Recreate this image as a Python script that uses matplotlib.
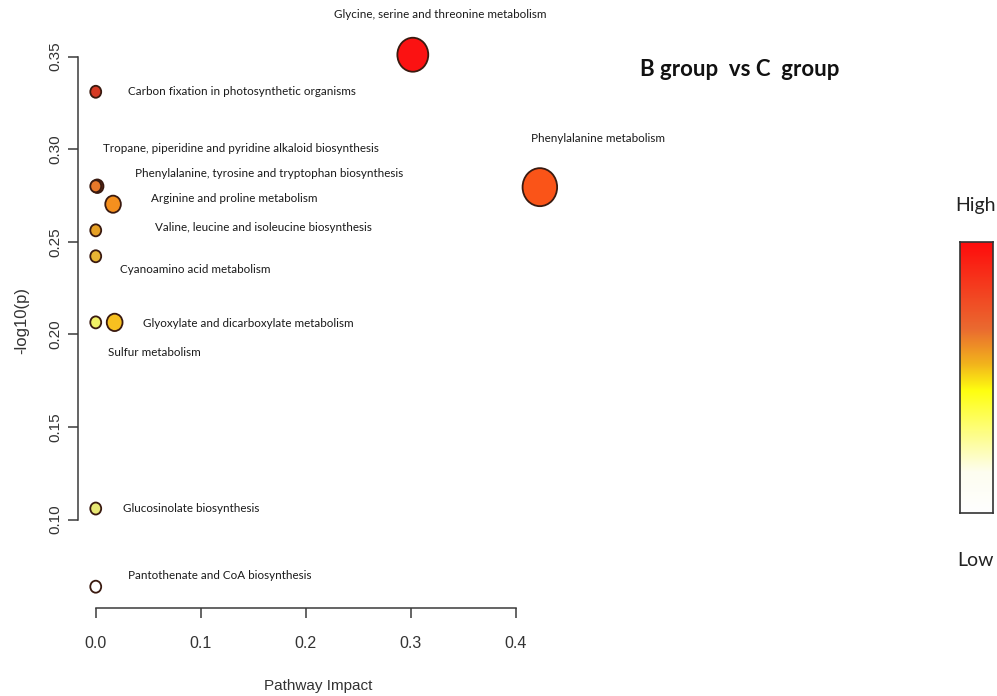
import numpy as np
import matplotlib
matplotlib.use("Agg")
import matplotlib.pyplot as plt
from matplotlib.colors import LinearSegmentedColormap
from matplotlib.path import Path
from matplotlib.markers import MarkerStyle

# Pathway analysis results
pathways = [
    "Glycine, serine and threonine metabolism",
    "Carbon fixation in photosynthetic organisms",
    "Tropane, piperidine and pyridine alkaloid biosynthesis",
    "Phenylalanine, tyrosine and tryptophan biosynthesis",
    "Phenylalanine metabolism",
    "Arginine and proline metabolism",
    "Valine, leucine and isoleucine biosynthesis",
    "Cyanoamino acid metabolism",
    "Glyoxylate and dicarboxylate metabolism",
    "Sulfur metabolism",
    "Glucosinolate biosynthesis",
    "Pantothenate and CoA biosynthesis",
]
impact = [0.302, 0.0, 0.0015, 0.0, 0.423, 0.0165, 0.0, 0.0, 0.018, 0.0, 0.0, 0.0]
neg_log_p = [0.351, 0.331, 0.280, 0.280, 0.2795, 0.2703, 0.2562, 0.2422,
             0.2065, 0.2065, 0.106, 0.0638]

x_ticks = [0.0, 0.1, 0.2, 0.3, 0.4]
y_ticks = [0.10, 0.15, 0.20, 0.25, 0.30, 0.35]

# styling
fill_colors = ["#fb1212", "#d63a24", "#6e2c10", "#e8782a", "#fa5418", "#f5901e",
               "#e6a024", "#e8b434", "#f7c020", "#f2f066", "#e8e874", "#ffffff"]
edge_color = "#3a1a10"
label_offsets = [(27, -40, "center"), (32, 0, "left"), (6, -38, "left"),
                 (39, -13, "left"), (-9, -49, "left"), (38, -6, "left"),
                 (59, -3, "left"), (24, 13, "left"), (28, 1, "left"),
                 (12, 30, "left"), (27, 0, "left"), (32, -11, "left")]

label_font = ["Lato", "DejaVu Sans"]
axis_font = ["Liberation Sans", "DejaVu Sans"]

fig = plt.figure(figsize=(9.97, 6.96), dpi=100)
ax = fig.add_axes([78 / 997, 1 - 608 / 696, (557.7 - 78) / 997, (608 - 32.5) / 696])

ax.set_xlim(-0.0169, 0.44)
ax.set_ylim(0.0523, 0.363)

# slightly tall elliptical marker
circ = Path.unit_circle()
ell = Path(circ.vertices * np.array([1.0, 1.1]), circ.codes)
marker = MarkerStyle(ell)

diam_px = [12 + 40 * np.sqrt(v) for v in impact]
sizes = [(d * 72 / 100) ** 2 for d in diam_px]

ax.scatter(impact, neg_log_p, s=sizes, c=fill_colors, edgecolors=edge_color,
           linewidths=1.3, marker=marker, zorder=3)

for name, xv, yv, (dx, dy, ha) in zip(pathways, impact, neg_log_p, label_offsets):
    ax.annotate(name, (xv, yv), xytext=(dx, -dy), textcoords="offset pixels",
                ha=ha, va="center", fontsize=8.4, family=label_font, color="#1a1a1a")

for side in ("top", "right"):
    ax.spines[side].set_visible(False)
ax.spines["left"].set_bounds(y_ticks[0], y_ticks[-1])
ax.spines["bottom"].set_bounds(x_ticks[0], x_ticks[-1])
for side in ("left", "bottom"):
    ax.spines[side].set_color("#3a3a3a")
    ax.spines[side].set_linewidth(1.1)

ax.set_xticks(x_ticks)
ax.set_xticklabels([f"{v:.1f}" for v in x_ticks], family=axis_font)
ax.set_yticks(y_ticks)
ax.set_yticklabels([f"{v:.2f}" for v in y_ticks], rotation=90, va="center",
                   family=axis_font)
ax.tick_params(axis="both", length=7, width=1.1, color="#3a3a3a",
               labelcolor="#333333")
ax.tick_params(axis="x", labelsize=11.5, pad=13)
ax.tick_params(axis="y", labelsize=11, pad=4)

ax.set_xlabel("Pathway Impact", family=axis_font, fontsize=11, color="#333333",
              labelpad=20)
ax.set_ylabel("-log10(p)", family=axis_font, fontsize=12, color="#333333",
              labelpad=14)

fig.text(740 / 997, 1 - 70 / 696, "B group  vs C  group", ha="center", va="center",
         fontsize=16, fontweight="bold", family=label_font, color="#111111")

# colour key
cmap = LinearSegmentedColormap.from_list(
    "heat", [(0.0, "#ffffff"), (0.15, "#fdfdf0"), (0.45, "#ffff10"),
             (0.55, "#f2b41c"), (0.68, "#ea6a30"), (1.0, "#ff0c0c")])
cax = fig.add_axes([960 / 997, 1 - 513 / 696, 33 / 997, 271 / 696])
grad = np.linspace(0, 1, 256).reshape(-1, 1)
cax.imshow(grad, aspect="auto", cmap=cmap, origin="lower", extent=(0, 1, 0, 1))
cax.set_xticks([])
cax.set_yticks([])
for sp in cax.spines.values():
    sp.set_color("#333333")
    sp.set_linewidth(1.2)

fig.text(975 / 997, 1 - 205 / 696, "High", ha="center", va="center",
         fontsize=14, family=label_font, color="#222222")
fig.text(975 / 997, 1 - 560 / 696, "Low", ha="center", va="center",
         fontsize=14, family=label_font, color="#222222")

fig.savefig("out.png", dpi=100, facecolor="white")
